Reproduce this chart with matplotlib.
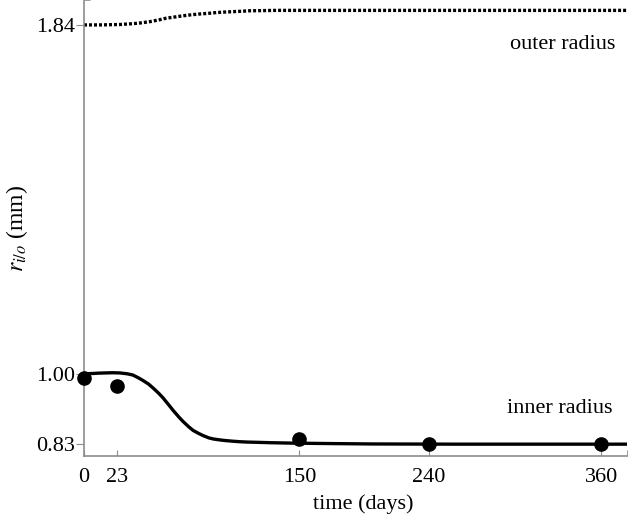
import matplotlib
matplotlib.use("Agg")
import matplotlib.pyplot as plt

# measured inner radius (dots)
obs_days = [0, 23, 150, 240, 360]
obs_inner = [0.99, 0.97, 0.842, 0.83, 0.83]

# model curve for inner radius
model_days = [0, 5, 10, 15, 20, 25, 30, 34, 38, 41, 45, 48, 52, 55, 59, 62, 66, 69, 73,
              76, 80, 83, 87, 90, 95, 99, 104, 108, 114, 120, 130, 145, 170, 200, 260, 378]
model_inner = [1.0, 1.0005, 1.0015, 1.002, 1.0025, 1.002, 1.000, 0.997, 0.990, 0.984,
               0.975, 0.966, 0.953, 0.942, 0.925, 0.912, 0.896, 0.885, 0.872, 0.8635,
               0.856, 0.851, 0.8455, 0.843, 0.8405, 0.839, 0.8375, 0.8365, 0.8355, 0.835,
               0.834, 0.833, 0.832, 0.831, 0.8305, 0.8305]

# model curve for outer radius
outer_days = [0, 11, 25, 34, 40, 46, 52, 57, 63, 69, 75, 81, 87, 92, 98, 104, 110, 115,
              125, 134, 150, 200, 378]
outer_r = [1.84, 1.84, 1.841, 1.843, 1.845, 1.848, 1.852, 1.856, 1.859, 1.862, 1.8645,
           1.8665, 1.868, 1.8697, 1.871, 1.872, 1.873, 1.874, 1.8745, 1.875, 1.875,
           1.875, 1.875]

xticks = [0, 23, 150, 240, 360]
yticks = [0.83, 1.00, 1.84]
ytick_labels = ["0.83", "1.00", "1.84"]

plt.rcParams["font.family"] = ["Liberation Serif", "DejaVu Serif"]
plt.rcParams["mathtext.fontset"] = "stix"

fig = plt.figure(figsize=(6.28, 5.16), dpi=100)
ax = fig.add_axes([84 / 628, 60 / 516, 543 / 628, 456 / 516])

ax.plot(model_days, model_inner, color="black", lw=2.4, solid_joinstyle="round")
ax.plot(outer_days, outer_r, color="black", lw=2.4, linestyle=(0, (0.9, 0.6)))
ax.plot(obs_days, obs_inner, "o", color="black", markersize=9.5, clip_on=False, zorder=5)

ax.set_xlim(0, 378)
ax.set_ylim(0.802, 1.900)

ax.set_xticks(xticks)
ax.set_yticks(yticks)
ax.set_yticklabels(ytick_labels)

gray = "#8c8c8c"
for side in ["top", "right"]:
    ax.spines[side].set_visible(False)
for side in ["left", "bottom"]:
    ax.spines[side].set_color(gray)
    ax.spines[side].set_linewidth(1.2)

ax.tick_params(axis="x", direction="in", length=4.5, color=gray, labelsize=16, pad=8.5)
ax.tick_params(axis="y", direction="out", length=5.5, color=gray, labelsize=16, pad=1)

# little end ticks at the ends of the axes
ax.set_xticks([378], minor=True)
ax.set_yticks([1.900], minor=True)
ax.tick_params(which="minor", direction="in", length=4.5, color=gray,
               labelbottom=False, labelleft=False)

ax.text(370, 1.792, "outer radius", fontsize=16, ha="right", va="center")
ax.text(368, 0.917, "inner radius", fontsize=16, ha="right", va="center")

ax.set_xlabel("time (days)", fontsize=16)
ax.xaxis.set_label_coords(0.515, -0.085)
ax.set_ylabel(r"$r_{i/o}$ (mm)", fontsize=17)
ax.yaxis.set_label_coords(-0.100, 0.5)

fig.savefig("out.png", dpi=100)
